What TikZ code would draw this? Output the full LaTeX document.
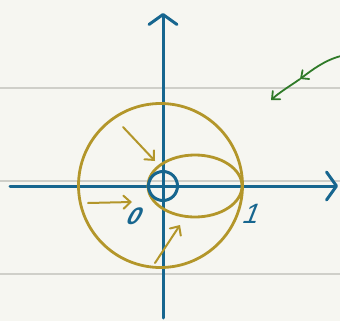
\documentclass[tikz,border=0pt]{standalone}
\usepackage{fontspec}
\setmainfont{Liberation Sans}
\usetikzlibrary{arrows.meta}
\definecolor{bg}{HTML}{F6F6F1}
\definecolor{rule}{HTML}{CFCFC9}
\definecolor{axisblue}{HTML}{17668F}
\definecolor{gold}{HTML}{B3962A}
\definecolor{leaf}{HTML}{2F7A28}
\begin{document}
\begin{tikzpicture}[x=1pt,y=-1pt,
  ruleline/.style={draw=rule,line width=1.8pt},
  axisline/.style={draw=axisblue,line width=3pt,line cap=round,
     -{Straight Barb[length=10pt,width=28pt,line cap=round,line join=round]}},
  goldline/.style={draw=gold,line width=2.8pt},
  goldarrow/.style={draw=gold,line width=2pt,line cap=round,
     -{Straight Barb[length=7pt,width=13pt,line cap=round]}},
  greenarrow/.style={draw=leaf,line width=1.8pt,line cap=round,
     -{Straight Barb[length=6pt,width=11pt,line cap=round]}},
  numlabel/.style={text=axisblue,inner sep=0pt}]
\useasboundingbox (0,0) rectangle (340,321);
\fill[bg] (0,0) rectangle (340,321);
% ruled lines
\draw[ruleline] (0,88) -- (340,88);
\draw[ruleline] (0,181) -- (340,181);
\draw[ruleline] (0,274) -- (340,274);
% axes
\coordinate (xs) at (10,186);
\coordinate (xe) at (338,186);
\coordinate (ys) at (163,318);
\coordinate (ye) at (163,13);
\draw[axisline] (xs) -- (xe);
\draw[axisline] (ys) -- (ye);
% shapes
\coordinate (o) at (163,186);
\draw[goldline] (160.5,185.5) circle[radius=82];
\draw[goldline] (195,186) ellipse[x radius=47,y radius=31];
\draw[draw=axisblue,line width=3pt] (o) circle[radius=14.5];
% gold arrows
\coordinate (a1s) at (123,127); \coordinate (a1e) at (155,161);
\coordinate (a2s) at (88,203);  \coordinate (a2e) at (132,202);
\coordinate (a3s) at (155,263); \coordinate (a3e) at (180,225);
\draw[goldarrow] (a1s) -- (a1e);
\draw[goldarrow] (a2s) -- (a2e);
\draw[goldarrow] (a3s) -- (a3e);
% labels
\node[numlabel,font=\fontsize{24}{24}\selectfont\bfseries\itshape,xslant=0.35] (zero) at (135,216) {0};
\node[numlabel,font=\fontsize{28}{28}\selectfont\itshape,xslant=0.2] (one) at (252,214) {1};
% green arrow
\coordinate (gs) at (341,56);
\coordinate (gm) at (300,79);
\coordinate (ge) at (271,100);
\draw[greenarrow] (gs) .. controls (325,60) and (312,70) .. (gm);
\draw[greenarrow] (gm) .. controls (290,86) and (280,92) .. (ge);
\end{tikzpicture}
\end{document}
